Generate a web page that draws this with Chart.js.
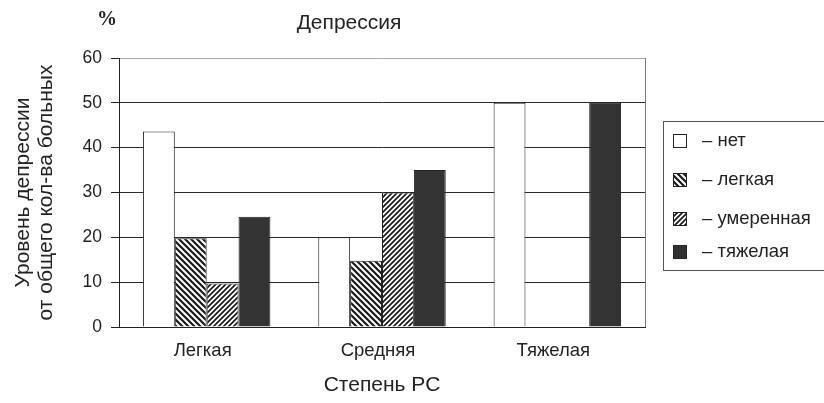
<!DOCTYPE html>
<html>
<head>
<meta charset="utf-8">
<script src="https://cdn.jsdelivr.net/npm/chart.js@4/dist/chart.umd.min.js"></script>
<style>
  body { margin: 0; background: #fff; }
</style>
</head>
<body>
<canvas id="chart" width="824" height="403"></canvas>
<script>
// Данные: уровень депрессии (% от общего кол-ва больных) по степени РС
const categories = ['Легкая', 'Средняя', 'Тяжелая'];
const seriesNames = ['– нет', '– легкая', '– умеренная', '– тяжелая'];
const noneVals = [43.6, 20, 50];
const mildVals = [19.8, 14.8, null];
const moderateVals = [9.7, 30, null];
const severeVals = [24.6, 35, 50];
const yTicks = [0, 10, 20, 30, 40, 50, 60];

const FONT = "'Liberation Sans', Arial, sans-serif";

// штриховка для столбцов
function hatch(dir, size, lw) {
  const c = document.createElement('canvas');
  c.width = c.height = size;
  const g = c.getContext('2d');
  g.fillStyle = '#fff';
  g.fillRect(0, 0, size, size);
  g.strokeStyle = '#1a1a1a';
  g.lineWidth = lw;
  g.beginPath();
  if (dir === 'back') {
    g.moveTo(0, 0); g.lineTo(size, size);
    g.moveTo(-1, size - 1); g.lineTo(1, size + 1);
    g.moveTo(size - 1, -1); g.lineTo(size + 1, 1);
  } else {
    g.moveTo(0, size); g.lineTo(size, 0);
    g.moveTo(-1, 1); g.lineTo(1, -1);
    g.moveTo(size - 1, size + 1); g.lineTo(size + 1, size - 1);
  }
  g.stroke();
  return g.createPattern(c, 'repeat');
}

const fills = ['#ffffff', hatch('back', 6, 2.2), hatch('fwd', 5, 1.7), '#333333'];

// подписи "%" и "Депрессия", рамка справа, легенда в рамке
const extras = {
  id: 'extras',
  afterDraw(chart) {
    const ctx = chart.ctx;
    const a = chart.chartArea;
    ctx.save();
    ctx.strokeStyle = '#777';
    ctx.lineWidth = 1;
    ctx.beginPath();
    ctx.moveTo(Math.round(a.right) + 0.5, a.top);
    ctx.lineTo(Math.round(a.right) + 0.5, a.bottom);
    ctx.stroke();

    ctx.fillStyle = '#222';
    ctx.textBaseline = 'middle';
    ctx.textAlign = 'center';
    ctx.font = "bold 20px 'Liberation Serif', serif";
    ctx.fillText('%', 107, 20);
    ctx.font = '21px ' + FONT;
    ctx.fillText('Депрессия', 349, 23);

    // легенда
    ctx.strokeStyle = '#555';
    ctx.strokeRect(663.5, 121.5, 170, 149);
    const ys = [141, 180, 219, 252];
    ctx.textAlign = 'left';
    ctx.font = '18.5px ' + FONT;
    chart.data.datasets.forEach((ds, i) => {
      ctx.fillStyle = ds.backgroundColor;
      ctx.fillRect(673, ys[i] - 7, 14, 14);
      ctx.strokeStyle = '#222';
      ctx.strokeRect(673.5, ys[i] - 6.5, 13, 13);
      ctx.fillStyle = '#222';
      ctx.fillText(ds.label, 702, ys[i]);
    });
    ctx.restore();
  }
};

const values = [noneVals, mildVals, moderateVals, severeVals];

new Chart(document.getElementById('chart').getContext('2d'), {
  type: 'bar',
  data: {
    labels: categories,
    datasets: seriesNames.map((name, i) => ({
      label: name,
      data: values[i],
      backgroundColor: fills[i],
      borderColor: '#222',
      borderWidth: 1,
      categoryPercentage: 0.727,
      barPercentage: 1
    }))
  },
  options: {
    responsive: false,
    animation: false,
    devicePixelRatio: 1,
    layout: { padding: { top: 58, right: 179, left: 0, bottom: 0 } },
    plugins: {
      legend: { display: false },
      tooltip: { enabled: false }
    },
    scales: {
      x: {
        grid: { display: false, drawTicks: false },
        border: { color: '#222' },
        ticks: { color: '#222', padding: 13, labelOffset: -4, font: { family: FONT, size: 18.5 } },
        title: {
          display: true,
          text: 'Степень РС',
          color: '#222',
          font: { family: FONT, size: 21 },
          padding: { top: 0, bottom: 5 }
        },
        afterFit(scale) { scale.height = 76; }
      },
      y: {
        min: 0,
        max: 60,
        afterBuildTicks(scale) { scale.ticks = yTicks.map(v => ({ value: v })); },
        grid: {
          color: ctx => ctx.tick && ctx.tick.value === 60 ? '#aaa' : '#2a2a2a',
          tickLength: 8,
          tickColor: '#222'
        },
        border: { color: '#222' },
        ticks: { color: '#222', padding: 9, font: { family: FONT, size: 17.5 } },
        title: {
          display: true,
          text: ['Уровень депрессии', 'от общего кол-ва больных'],
          color: '#222',
          font: { family: FONT, size: 21, lineHeight: 1.1 },
          padding: { top: 12, bottom: 0 }
        },
        afterFit(scale) { scale.width = 119; }
      }
    }
  },
  plugins: [extras]
});
</script>
</body>
</html>
